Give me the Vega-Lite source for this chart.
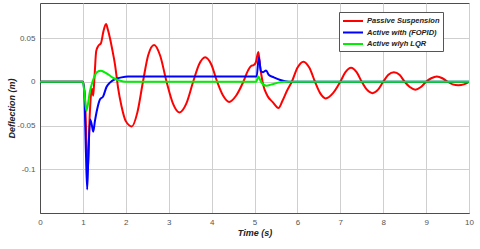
{
  "$schema": "https://vega.github.io/schema/vega-lite/v6.json",
  "width": 429,
  "height": 210,
  "autosize": {"type": "none"},
  "padding": {"left": 40, "top": 3, "right": 11, "bottom": 36},
  "background": "white",
  "config": {
    "view": {"stroke": "#4d4d4d", "strokeWidth": 1},
    "font": "Liberation Sans"
  },
  "data": {
    "values": [
      {"t": 0, "v": 0, "s": "P"}, {"t": 1.0, "v": 0, "s": "P"}, {"t": 1.05, "v": -0.02, "s": "P"}, {"t": 1.09, "v": -0.08, "s": "P"}, {"t": 1.12, "v": -0.1, "s": "P"}, {"t": 1.15, "v": -0.05, "s": "P"}, {"t": 1.18, "v": -0.02, "s": "P"}, {"t": 1.21, "v": -0.008, "s": "P"}, {"t": 1.24, "v": -0.016, "s": "P"}, {"t": 1.27, "v": 0.005, "s": "P"}, {"t": 1.31, "v": 0.035, "s": "P"}, {"t": 1.36, "v": 0.041, "s": "P"}, {"t": 1.42, "v": 0.044, "s": "P"}, {"t": 1.48, "v": 0.058, "s": "P"}, {"t": 1.54, "v": 0.066, "s": "P"}, {"t": 1.58, "v": 0.06, "s": "P"}, {"t": 1.63, "v": 0.05, "s": "P"}, {"t": 1.68, "v": 0.038, "s": "P"}, {"t": 1.75, "v": 0.019, "s": "P"}, {"t": 1.82, "v": -0.007, "s": "P"}, {"t": 1.9, "v": -0.028, "s": "P"}, {"t": 2.0, "v": -0.045, "s": "P"}, {"t": 2.14, "v": -0.051, "s": "P"}, {"t": 2.27, "v": -0.035, "s": "P"}, {"t": 2.4, "v": 0, "s": "P"}, {"t": 2.52, "v": 0.03, "s": "P"}, {"t": 2.66, "v": 0.042, "s": "P"}, {"t": 2.8, "v": 0.03, "s": "P"}, {"t": 2.95, "v": 0, "s": "P"}, {"t": 3.1, "v": -0.025, "s": "P"}, {"t": 3.25, "v": -0.035, "s": "P"}, {"t": 3.41, "v": -0.025, "s": "P"}, {"t": 3.57, "v": 0, "s": "P"}, {"t": 3.71, "v": 0.02, "s": "P"}, {"t": 3.85, "v": 0.028, "s": "P"}, {"t": 3.99, "v": 0.02, "s": "P"}, {"t": 4.13, "v": 0, "s": "P"}, {"t": 4.27, "v": -0.016, "s": "P"}, {"t": 4.41, "v": -0.023, "s": "P"}, {"t": 4.57, "v": -0.016, "s": "P"}, {"t": 4.74, "v": 0, "s": "P"}, {"t": 4.85, "v": 0.013, "s": "P"}, {"t": 4.92, "v": 0.018, "s": "P"}, {"t": 4.98, "v": 0.019, "s": "P"}, {"t": 5.03, "v": 0.022, "s": "P"}, {"t": 5.09, "v": 0.034, "s": "P"}, {"t": 5.13, "v": 0.018, "s": "P"}, {"t": 5.2, "v": -0.003, "s": "P"}, {"t": 5.3, "v": -0.016, "s": "P"}, {"t": 5.42, "v": -0.023, "s": "P"}, {"t": 5.56, "v": -0.03, "s": "P"}, {"t": 5.65, "v": -0.022, "s": "P"}, {"t": 5.76, "v": -0.01, "s": "P"}, {"t": 5.87, "v": 0, "s": "P"}, {"t": 6.0, "v": 0.016, "s": "P"}, {"t": 6.14, "v": 0.023, "s": "P"}, {"t": 6.28, "v": 0.016, "s": "P"}, {"t": 6.41, "v": 0, "s": "P"}, {"t": 6.53, "v": -0.013, "s": "P"}, {"t": 6.66, "v": -0.019, "s": "P"}, {"t": 6.83, "v": -0.013, "s": "P"}, {"t": 7.0, "v": 0, "s": "P"}, {"t": 7.12, "v": 0.011, "s": "P"}, {"t": 7.25, "v": 0.016, "s": "P"}, {"t": 7.38, "v": 0.011, "s": "P"}, {"t": 7.5, "v": 0, "s": "P"}, {"t": 7.62, "v": -0.009, "s": "P"}, {"t": 7.75, "v": -0.013, "s": "P"}, {"t": 7.88, "v": -0.009, "s": "P"}, {"t": 8.0, "v": 0, "s": "P"}, {"t": 8.12, "v": 0.008, "s": "P"}, {"t": 8.25, "v": 0.011, "s": "P"}, {"t": 8.38, "v": 0.008, "s": "P"}, {"t": 8.5, "v": 0, "s": "P"}, {"t": 8.62, "v": -0.006, "s": "P"}, {"t": 8.75, "v": -0.009, "s": "P"}, {"t": 8.88, "v": -0.006, "s": "P"}, {"t": 9.0, "v": 0, "s": "P"}, {"t": 9.12, "v": 0.004, "s": "P"}, {"t": 9.25, "v": 0.006, "s": "P"}, {"t": 9.38, "v": 0.004, "s": "P"}, {"t": 9.5, "v": 0, "s": "P"}, {"t": 9.62, "v": -0.003, "s": "P"}, {"t": 9.75, "v": -0.004, "s": "P"}, {"t": 9.88, "v": -0.003, "s": "P"}, {"t": 10, "v": 0, "s": "P"},
      {"t": 0, "v": 0, "s": "F"}, {"t": 1.0, "v": 0, "s": "F"}, {"t": 1.03, "v": -0.01, "s": "F"}, {"t": 1.07, "v": -0.08, "s": "F"}, {"t": 1.1, "v": -0.123, "s": "F"}, {"t": 1.13, "v": -0.08, "s": "F"}, {"t": 1.17, "v": -0.043, "s": "F"}, {"t": 1.21, "v": -0.05, "s": "F"}, {"t": 1.24, "v": -0.057, "s": "F"}, {"t": 1.28, "v": -0.045, "s": "F"}, {"t": 1.33, "v": -0.032, "s": "F"}, {"t": 1.4, "v": -0.02, "s": "F"}, {"t": 1.47, "v": -0.017, "s": "F"}, {"t": 1.55, "v": -0.006, "s": "F"}, {"t": 1.63, "v": -0.001, "s": "F"}, {"t": 1.75, "v": 0.003, "s": "F"}, {"t": 1.9, "v": 0.005, "s": "F"}, {"t": 2.05, "v": 0.006, "s": "F"}, {"t": 5.05, "v": 0.006, "s": "F"}, {"t": 5.1, "v": 0.028, "s": "F"}, {"t": 5.15, "v": 0.012, "s": "F"}, {"t": 5.2, "v": 0.011, "s": "F"}, {"t": 5.27, "v": 0.013, "s": "F"}, {"t": 5.33, "v": 0.008, "s": "F"}, {"t": 5.45, "v": 0.005, "s": "F"}, {"t": 5.6, "v": 0.002, "s": "F"}, {"t": 5.8, "v": 0, "s": "F"}, {"t": 10, "v": 0, "s": "F"},
      {"t": 0, "v": 0, "s": "L"}, {"t": 1.0, "v": 0, "s": "L"}, {"t": 1.04, "v": -0.015, "s": "L"}, {"t": 1.08, "v": -0.033, "s": "L"}, {"t": 1.12, "v": -0.025, "s": "L"}, {"t": 1.16, "v": -0.012, "s": "L"}, {"t": 1.2, "v": -0.004, "s": "L"}, {"t": 1.26, "v": 0.005, "s": "L"}, {"t": 1.33, "v": 0.011, "s": "L"}, {"t": 1.42, "v": 0.0125, "s": "L"}, {"t": 1.5, "v": 0.011, "s": "L"}, {"t": 1.6, "v": 0.008, "s": "L"}, {"t": 1.72, "v": 0.004, "s": "L"}, {"t": 1.85, "v": 0.0015, "s": "L"}, {"t": 2.0, "v": 0, "s": "L"}, {"t": 5.04, "v": 0, "s": "L"}, {"t": 5.09, "v": 0.006, "s": "L"}, {"t": 5.14, "v": 0.001, "s": "L"}, {"t": 5.2, "v": -0.003, "s": "L"}, {"t": 5.28, "v": -0.0045, "s": "L"}, {"t": 5.4, "v": -0.003, "s": "L"}, {"t": 5.55, "v": -0.001, "s": "L"}, {"t": 5.7, "v": 0, "s": "L"}, {"t": 10, "v": 0, "s": "L"}
    ]
  },
  "mark": {"type": "line", "interpolate": "monotone", "strokeWidth": 2, "clip": true},
  "encoding": {
    "x": {
      "field": "t", "type": "quantitative",
      "scale": {"domain": [0, 10], "nice": false, "zero": false},
      "axis": {
        "title": "Time (s)", "titleFont": "Liberation Sans", "titleFontSize": 9, "titleFontWeight": "bold", "titleFontStyle": "italic", "titleColor": "#222", "titlePadding": 2,
        "values": [0,1,2,3,4,5,6,7,8,9,10], "labelFontSize": 8, "labelColor": "#555", "labelPadding": 5,
        "ticks": false, "domainColor": "#4d4d4d", "gridColor": "#cfcfcf", "gridWidth": 1, "labelFlush": false
      }
    },
    "y": {
      "field": "v", "type": "quantitative",
      "scale": {"domain": [-0.15, 0.09], "nice": false, "zero": false},
      "axis": {
        "title": "Deflection (m)", "titleFont": "Liberation Sans", "titleFontSize": 9, "titleFontWeight": "bold", "titleFontStyle": "italic", "titleColor": "#222", "titlePadding": 0,
        "values": [-0.1, -0.05, 0, 0.05],
        "labelExpr": "datum.value == 0 ? '0' : datum.value > 0.04 ? '0.05' : datum.value > -0.06 ? '-0.05' : '-0.1'",
        "labelFontSize": 8, "labelColor": "#555", "labelPadding": 5,
        "ticks": false, "domainColor": "#4d4d4d", "gridColor": "#cfcfcf", "gridWidth": 1
      }
    },
    "color": {
      "field": "s", "type": "nominal",
      "scale": {"domain": ["P", "F", "L"], "range": ["#ff0000", "#0000ff", "#00ee00"]},
      "legend": {
        "title": null, "orient": "none", "legendX": 299, "legendY": 9,
        "labelExpr": "datum.value == 'P' ? 'Passive Suspension' : datum.value == 'F' ? 'Active with (FOPID)' : 'Active wlyh LQR'",
        "symbolType": "M-1,0H3", "symbolSize": 100, "symbolStrokeWidth": 2, "symbolOffset": 0,
        "labelFont": "Liberation Sans", "labelFontSize": 7.5, "labelFontWeight": "bold", "labelFontStyle": "italic", "labelColor": "#222",
        "padding": 3, "rowPadding": 1.5, "strokeColor": "#555", "fillColor": "white", "labelOffset": 13
      }
    }
  }
}
